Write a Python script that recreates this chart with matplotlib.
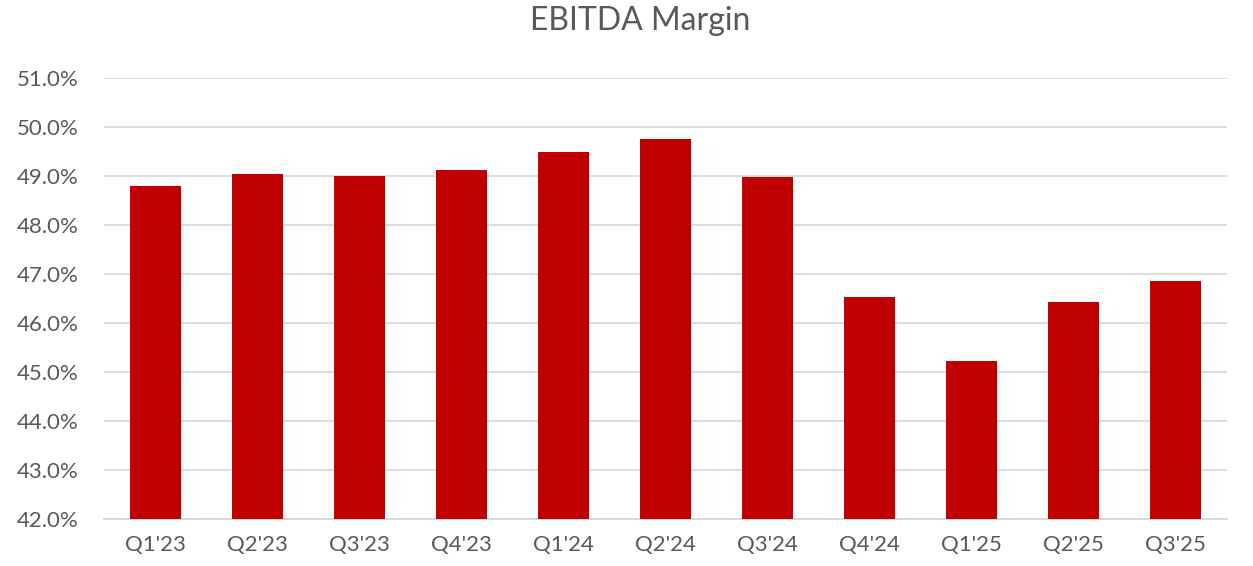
import matplotlib
matplotlib.use("Agg")
import matplotlib.pyplot as plt
from matplotlib.ticker import FuncFormatter, MultipleLocator

categories = ["Q1'23", "Q2'23", "Q3'23", "Q4'23", "Q1'24", "Q2'24", "Q3'24",
              "Q4'24", "Q1'25", "Q2'25", "Q3'25"]
ebitda_margin = [48.80, 49.04, 49.00, 49.12, 49.48, 49.75, 48.98,
                 46.53, 45.23, 46.42, 46.86]

plt.rcParams['font.family'] = ['Lato', 'DejaVu Sans']

fig = plt.figure(figsize=(12.53, 5.66), dpi=100)
ax = fig.add_axes([0.083, 0.0836, 0.896, 0.7786])

x = range(len(categories))
ax.bar(x, ebitda_margin, width=0.5, color='#C00000', zorder=3)

ax.set_ylim(42, 51)
ax.set_xlim(-0.5, len(categories) - 0.5)
ax.yaxis.set_major_locator(MultipleLocator(1))
ax.yaxis.set_major_formatter(FuncFormatter(lambda v, p: f"{v:.1f}%"))
ax.set_xticks(list(x))
ax.set_xticklabels(categories)

ax.grid(axis='y', color='#D9D9D9', linewidth=1.3, zorder=0)
for s in ['top', 'right', 'left']:
    ax.spines[s].set_visible(False)
ax.spines['bottom'].set_color('#D9D9D9')
ax.spines['bottom'].set_linewidth(1.3)
ax.tick_params(axis='both', length=0, labelsize=16, colors='#595959')
ax.tick_params(axis='y', pad=18)
ax.tick_params(axis='x', pad=12)

fig.text(0.511, 0.963, "EBITDA Margin", ha='center', va='center',
         fontsize=23, color='#595959')

fig.savefig("out.png", dpi=100)
